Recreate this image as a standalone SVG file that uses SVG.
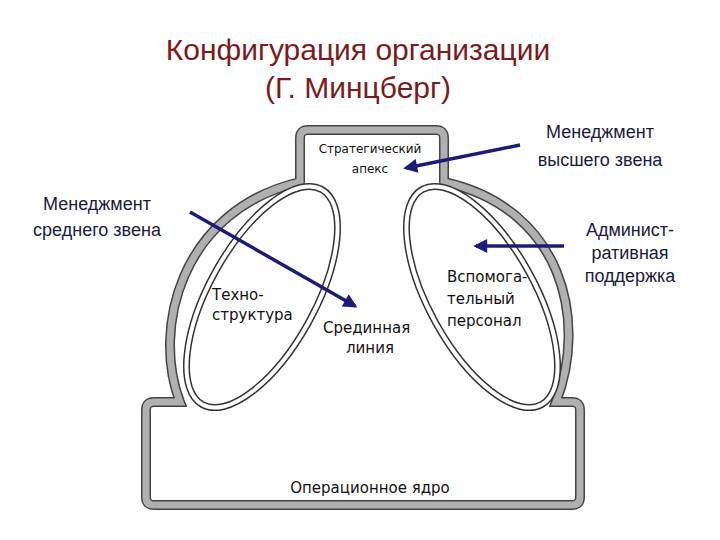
<svg xmlns="http://www.w3.org/2000/svg" width="720" height="540" viewBox="0 0 720 540">
<defs>
<style>
.band{fill:none;stroke:#444;stroke-width:10}
.bandin{fill:none;stroke:#b0b0b0;stroke-width:7}
.ell{fill:none;stroke:#333;stroke-width:7}
.ellin{fill:none;stroke:#fff;stroke-width:4}
.title{font-family:"Liberation Sans",Arial,sans-serif;font-size:30px;fill:#7a1c1c;text-anchor:middle}
.lab{font-family:"Liberation Sans",Arial,sans-serif;font-size:18px;fill:#1a1a3a;text-anchor:middle}
.in{font-family:"DejaVu Sans",sans-serif;font-size:15px;fill:#111}
.sm{font-family:"DejaVu Sans",sans-serif;font-size:12px;fill:#111;text-anchor:middle}
.arr{stroke:#1c1c78;stroke-width:3.5;fill:none;marker-end:url(#ah)}
</style>
<marker id="ah" viewBox="0 0 10 10" refX="8" refY="5" markerWidth="4.5" markerHeight="4" orient="auto"><path d="M0,0L10,5L0,10z" fill="#1c1c78"/></marker>
</defs>
<rect width="720" height="540" fill="#fff"/>
<text class="title" x="358" y="60">Конфигурация организации</text>
<text class="title" x="358" y="98">(Г. Минцберг)</text>
<g id="body">
<path id="outline" d="M154,402 L180,402 C152,330 180,210 300,182 L300,138 Q300,130 308,130 L436,130 Q444,130 444,138 L444,182 C562,208 588,320 556,402 L572,402 Q580,402 580,410 L580,497 Q580,505 572,505 L154,505 Q146,505 146,497 L146,410 Q146,402 154,402 Z" fill="#fff" class="band"/>
<path d="M154,402 L180,402 C152,330 180,210 300,182 L300,138 Q300,130 308,130 L436,130 Q444,130 444,138 L444,182 C562,208 588,320 556,402 L572,402 Q580,402 580,410 L580,497 Q580,505 572,505 L154,505 Q146,505 146,497 L146,410 Q146,402 154,402 Z" class="bandin"/>
</g>
<g id="techno"><ellipse cx="262" cy="297" rx="53" ry="123" transform="rotate(29 262 297)" class="ell"/><ellipse cx="262" cy="297" rx="53" ry="123" transform="rotate(29 262 297)" class="ellin"/>
<text class="in" x="212" y="300">Техно-</text><text class="in" x="212" y="320">структура</text></g>
<g id="support"><ellipse cx="482" cy="297" rx="53" ry="123" transform="rotate(-29 482 297)" class="ell"/><ellipse cx="482" cy="297" rx="53" ry="123" transform="rotate(-29 482 297)" class="ellin"/>
<text class="in" x="447" y="282">Вспомога-</text><text class="in" x="447" y="304">тельный</text><text class="in" x="447" y="326">персонал</text></g>
<g id="apex"><text class="sm" x="370" y="153">Стратегический</text><text class="sm" x="370" y="173">апекс</text></g>
<g id="middle"><text class="in" x="323" y="333">Срединная</text><text class="in" x="370" y="353" text-anchor="middle">линия</text></g>
<g id="core"><text class="in" x="370" y="493" text-anchor="middle">Операционное ядро</text></g>
<g id="labels">
<text class="lab" x="600" y="138">Менеджмент</text><text class="lab" x="600" y="166">высшего звена</text>
<text class="lab" x="97" y="210">Менеджмент</text><text class="lab" x="97" y="236">среднего звена</text>
<text class="lab" x="630" y="236">Админист-</text><text class="lab" x="630" y="259">ративная</text><text class="lab" x="630" y="282">поддержка</text>
</g>
<g id="connectors">
<line class="arr" x1="520" y1="145" x2="406" y2="168"/>
<line class="arr" x1="190" y1="212" x2="355" y2="306"/>
<line class="arr" x1="564" y1="246" x2="476" y2="246"/>
</g>
</svg>
